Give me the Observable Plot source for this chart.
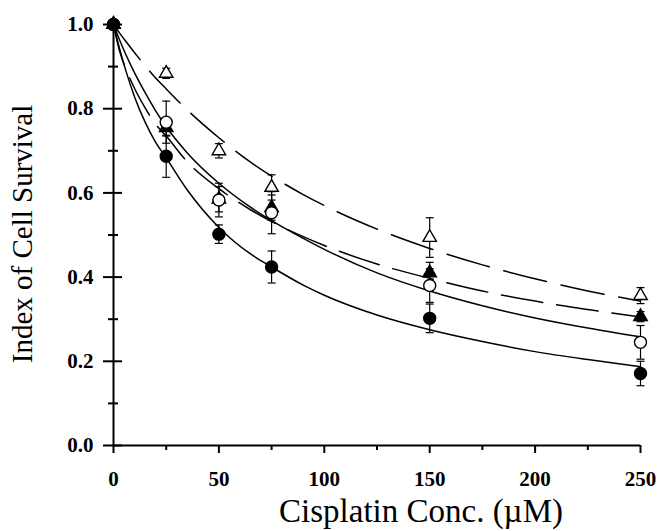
<!DOCTYPE html>
<html>
<head>
<meta charset="utf-8">
<script src="https://cdn.jsdelivr.net/npm/d3@7"></script>
<script src="https://cdn.jsdelivr.net/npm/@observablehq/plot@0.6"></script>
<style>
  html, body { margin: 0; padding: 0; background: white; }
</style>
</head>
<body>
<div id="chart"></div>
<script>
// ---- Data ----
const xLabel = "Cisplatin Conc. (\u00B5M)";
const yLabel = "Index of Cell Survival";
const xTicks = [0, 50, 100, 150, 200, 250];
const xMinorTicks = [25, 75, 125, 175, 225];
const yTicks = [0, 0.2, 0.4, 0.6, 0.8, 1.0];
const yMinorTicks = [0.1, 0.3, 0.5, 0.7, 0.9];

// measured points
const conc = [0, 25, 50, 75, 150, 250];
const filledCircle = [1.0, 0.687, 0.502, 0.424, 0.302, 0.171];
const filledCircleErr = [0, 0.05, 0.022, 0.038, 0.034, 0.029];
const openCircle = [1.0, 0.768, 0.583, 0.553, 0.380, 0.245];
const openCircleErr = [0, 0.05, 0.04, 0.05, 0.04, 0.04];
const filledTriangle = [1.0, 0.755, 0.585, 0.565, 0.410, 0.306];
const filledTriangleErr = [0, 0.02, 0.03, 0.03, 0.025, 0.012];
const openTriangle = [1.0, 0.884, 0.700, 0.613, 0.494, 0.356];
const openTriangleErr = [0, 0.012, 0.017, 0.03, 0.047, 0.019];

// fitted curves
const curveX = [0, 3, 6, 10, 15, 20, 25, 35, 50, 65, 75, 90, 100, 125, 150, 175, 200, 225, 250];
const curveFilledCircle = [1, 0.94, 0.888, 0.828, 0.768, 0.72, 0.683, 0.607, 0.518, 0.455, 0.424, 0.381, 0.357, 0.310, 0.275, 0.247, 0.223, 0.204, 0.187];
const curveOpenCircle = [1, 0.962, 0.927, 0.885, 0.838, 0.795, 0.757, 0.695, 0.623, 0.566, 0.534, 0.492, 0.466, 0.41, 0.367, 0.332, 0.303, 0.279, 0.258];
const curveFilledTriangle = [1, 0.935, 0.893, 0.848, 0.802, 0.763, 0.735, 0.674, 0.61, 0.56, 0.532, 0.496, 0.475, 0.431, 0.397, 0.367, 0.343, 0.323, 0.305];
const curveOpenTriangle = [1, 0.979, 0.959, 0.933, 0.902, 0.873, 0.847, 0.797, 0.731, 0.673, 0.640, 0.596, 0.570, 0.514, 0.468, 0.429, 0.396, 0.367, 0.343];

// ---- build tables ----
const pts = (ys, es) => conc.map((x, i) => ({x, y: ys[i], e: es[i]}));
const curve = (ys) => curveX.map((x, i) => ({x, y: ys[i]}));
const series = [
  {pts: pts(openTriangle, openTriangleErr), symbol: "triangle", fill: "white", r: 5},
  {pts: pts(filledTriangle, filledTriangleErr), symbol: "triangle", fill: "black", r: 5},
  {pts: pts(openCircle, openCircleErr), symbol: "circle", fill: "white", r: 6},
  {pts: pts(filledCircle, filledCircleErr), symbol: "circle", fill: "black", r: 6}
];

const cap = {draw(ctx, size) { const w = Math.sqrt(size / Math.PI); ctx.moveTo(-w, 0); ctx.lineTo(w, 0); }};

const serif = "'Liberation Serif', 'Times New Roman', Times, serif";
const marks = [];

// curves
marks.push(Plot.line(curve(curveFilledCircle), {x: "x", y: "y", curve: "monotone-x", stroke: "black", strokeWidth: 1.5}));
marks.push(Plot.line(curve(curveOpenCircle), {x: "x", y: "y", curve: "monotone-x", stroke: "black", strokeWidth: 1.5}));
marks.push(Plot.line(curve(curveFilledTriangle), {x: "x", y: "y", curve: "monotone-x", stroke: "black", strokeWidth: 1.5, strokeDasharray: "42,14"}));
marks.push(Plot.line(curve(curveOpenTriangle), {x: "x", y: "y", curve: "monotone-x", stroke: "black", strokeWidth: 1.5, strokeDasharray: "44,15"}));

// error bars
for (const s of series) {
  const withErr = s.pts.filter(d => d.e > 0);
  marks.push(Plot.ruleX(withErr, {x: "x", y1: d => d.y - d.e, y2: d => d.y + d.e, stroke: "black", strokeWidth: 1.2}));
  marks.push(Plot.dot(withErr, {x: "x", y: d => d.y + d.e, symbol: cap, r: 4, stroke: "black", fill: "none", strokeWidth: 1.2}));
  marks.push(Plot.dot(withErr, {x: "x", y: d => d.y - d.e, symbol: cap, r: 4, stroke: "black", fill: "none", strokeWidth: 1.2}));
}
// markers
for (const s of series) {
  marks.push(Plot.dot(s.pts, {x: "x", y: "y", symbol: s.symbol, r: s.r, fill: s.fill, stroke: "black", strokeWidth: 1.4}));
}

// axes
marks.push(Plot.ruleX([0], {stroke: "black", strokeWidth: 2}));
marks.push(Plot.ruleY([0], {stroke: "black", strokeWidth: 2}));
marks.push(Plot.axisY({ticks: yTicks, tickSize: 10, tickPadding: 10, tickFormat: d3.format(".1f"), label: null,
  fontSize: 21, fontWeight: "bold", fontFamily: serif, strokeWidth: 2}));
marks.push(Plot.axisY({ticks: yTicks, tickSize: 9, dx: 9, text: null, label: null, strokeWidth: 2}));
marks.push(Plot.axisY({ticks: yMinorTicks, tickSize: 5, text: null, label: null, strokeWidth: 2}));
marks.push(Plot.axisY({ticks: yMinorTicks, tickSize: 5, dx: 5, text: null, label: null, strokeWidth: 2}));
marks.push(Plot.axisX({ticks: xTicks, tickSize: 8, tickPadding: 18, tickFormat: d3.format("d"), label: null,
  fontSize: 21, fontWeight: "bold", fontFamily: serif, strokeWidth: 2}));
marks.push(Plot.axisX({ticks: xMinorTicks, tickSize: 5, text: null, label: null, strokeWidth: 2}));

// axis titles
marks.push(Plot.text([xLabel], {text: d => d, frameAnchor: "bottom", dy: 66, dx: 44, lineAnchor: "middle", textAnchor: "middle",
  fontSize: 33, fontFamily: serif, fill: "black"}));
marks.push(Plot.text([yLabel], {text: d => d, frameAnchor: "left", dx: -91, dy: -1, rotate: -90, lineAnchor: "middle", textAnchor: "middle",
  fontSize: 29, fontFamily: serif, fill: "black"}));

const chart = Plot.plot({
  width: 658,
  height: 531,
  marginLeft: 113,
  marginRight: 18,
  marginTop: 24,
  marginBottom: 86,
  x: {domain: [0, 250]},
  y: {domain: [0, 1]},
  style: {background: "white", color: "black", fontFamily: serif, overflow: "visible"},
  marks
});
document.getElementById("chart").appendChild(chart);
</script>
</body>
</html>
